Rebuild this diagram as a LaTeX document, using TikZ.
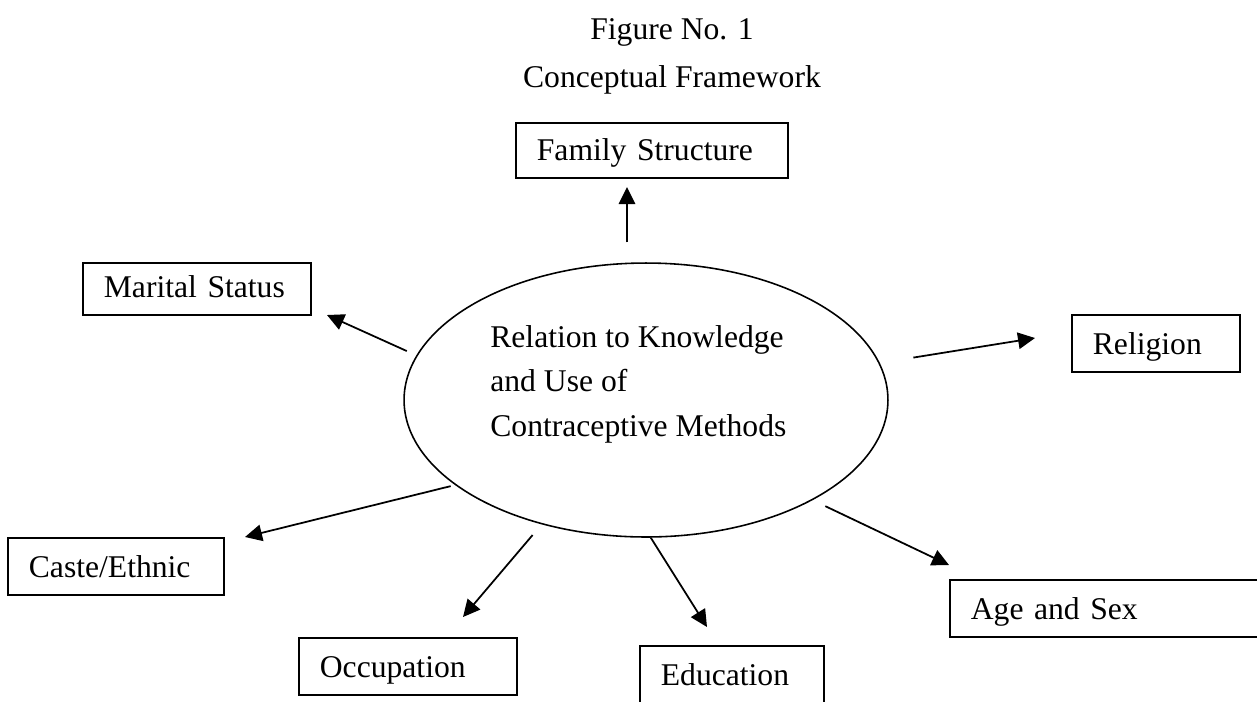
\documentclass[tikz,border=0pt]{standalone}
\usepackage{fontspec}
\setmainfont{Liberation Serif}
\usetikzlibrary{arrows.meta,shapes.geometric}

\begin{document}
\begin{tikzpicture}[
  x=0.02cm, y=-0.02cm,
  every node/.style={font=\fontsize{18}{25.4}\selectfont},
  factor/.style={draw, line width=1pt, anchor=north west, align=left,
                 inner xsep=0.42cm, inner ysep=0.2cm,
                 text height=0.6cm, text depth=0.14cm},
  hub/.style={draw, line width=0.9pt, ellipse, inner sep=0pt,
              minimum width=9.68cm, minimum height=5.48cm},
  arrow/.style={-{Triangle[length=0.34cm, width=0.33cm]}, line width=1pt},
]

%% ── Canvas ─────────────────────────────────────────────────────────────────
\fill[white] (0,0) rectangle (1257,701);
\useasboundingbox (0,0) rectangle (1257,701);

%% ── Title ──────────────────────────────────────────────────────────────────
\node[anchor=base] (figNo)    at (672,39) {Figure No. 1};
\node[anchor=base] (figTitle) at (672,87) {Conceptual Framework};

%% ── Central ellipse ────────────────────────────────────────────────────────
\node[hub] (core) at (646,400) {};
\node[anchor=north west, align=left, inner sep=0pt] (coreText) at (490,325)
  {Relation to Knowledge\\and Use of\\Contraceptive Methods};

%% ── Factor boxes ───────────────────────────────────────────────────────────
\node[factor, text width=4.6cm, text height=0.56cm]  (family)  at (515,122) {Family Structure};
\node[factor, text width=3.72cm, text height=0.5cm]  (marital) at (82,262)  {Marital Status};
\node[factor, text width=2.52cm]                     (religion) at (1071,314) {Religion};
\node[factor, text width=3.48cm]                     (caste)   at (7,537)   {Caste/Ethnic};
\node[factor, text width=3.52cm]                     (occup)   at (298,637) {Occupation};
\node[factor, text width=2.84cm, text depth=0.4cm]   (educ)    at (639,645) {Education};
\node[factor, text width=5.56cm]                     (agesex)  at (949,579) {Age and Sex};

%% ── Arrow tips (free ends) ─────────────────────────────────────────────────
\coordinate (familyTip)   at (627,187);
\coordinate (maritalTip)  at (327,315);
\coordinate (religionTip) at (1035,338);
\coordinate (casteTip)    at (245,537);
\coordinate (occupTip)    at (463,617);
\coordinate (educTip)     at (707,627);
\coordinate (agesexTip)   at (949,565);

%% ── Arrows ─────────────────────────────────────────────────────────────────
\draw[arrow, shorten <=0.4cm]  (core.north -| familyTip) -- (familyTip);
\draw[arrow, shorten <=0.21cm] (core.169.9)  -- (maritalTip);
\draw[arrow, shorten <=0.68cm] (core.9.2)    -- (religionTip);
\draw[arrow, shorten <=0.09cm] (core.204.2)  -- (casteTip);
\draw[arrow, shorten <=0.28cm] (core.230.6)  -- (occupTip);
\draw[arrow]                   (core.-88.7)  -- (educTip);
\draw[arrow, shorten <=0.28cm] (core.-31.5)  -- (agesexTip);

\end{tikzpicture}
\end{document}
